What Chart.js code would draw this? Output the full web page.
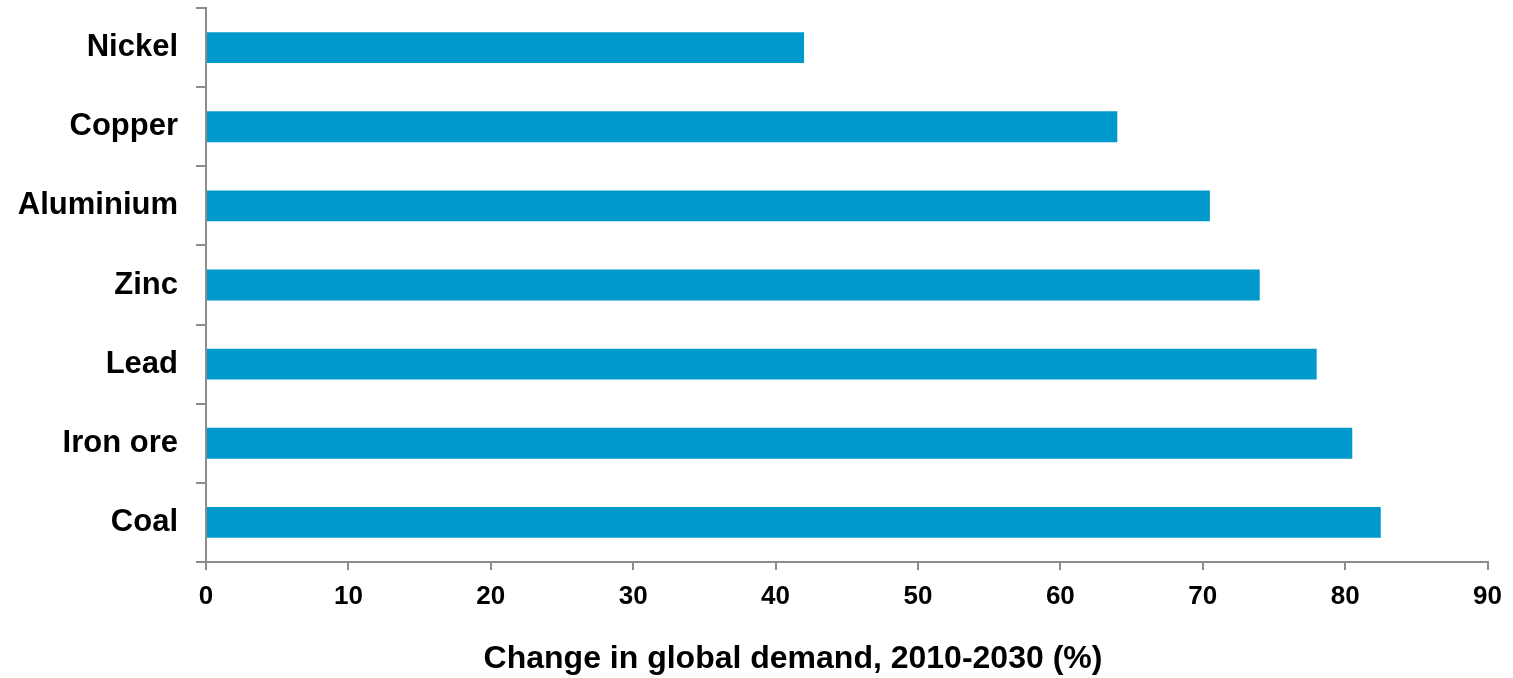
<!DOCTYPE html>
<html>
<head>
<meta charset="utf-8">
<title>Change in global demand, 2010-2030</title>
<script src="https://cdn.jsdelivr.net/npm/chart.js@4"></script>
<style>
  html, body { margin: 0; padding: 0; background: #fff; }
  #wrap { width: 1513px; height: 678px; }
</style>
</head>
<body>
<div id="wrap"><canvas id="demandChart"></canvas></div>
<script>
// Commodities, top to bottom
const metals = ['Nickel', 'Copper', 'Aluminium', 'Zinc', 'Lead', 'Iron ore', 'Coal'];
// Change in global demand 2010-2030, %
const demandChange = [42, 64, 70.5, 74, 78, 80.5, 82.5];
const xMin = 0;
const xMax = 90;
const xStep = 10;
const xTitle = 'Change in global demand, 2010-2030 (%)';

const axisGrey = '#8c8c8c';
const barBlue = 'rgb(0, 153, 204)';
const fontFamily = 'Liberation Sans, Arial, sans-serif';

// axis title sits a little left of the plot centre, so draw it ourselves
const xTitlePlugin = {
    id: 'xTitle',
    afterDraw(chart) {
        const c = chart.ctx;
        c.save();
        c.font = 'bold 32px ' + fontFamily;
        c.fillStyle = '#000';
        c.textAlign = 'center';
        c.textBaseline = 'middle';
        c.fillText(xTitle, 793, 659);
        c.restore();
    }
};

const ctx = document.getElementById('demandChart').getContext('2d');

const demandChart = new Chart(ctx, {
    type: 'bar',
    data: {
        labels: metals,
        datasets: [{
            label: xTitle,
            data: demandChange,
            backgroundColor: barBlue,
            borderWidth: 0,
            categoryPercentage: 1,
            barPercentage: 0.39
        }]
    },
    options: {
        indexAxis: 'y',
        responsive: true,
        maintainAspectRatio: false,
        animation: false,
        layout: {
            padding: { top: 8, right: 21, bottom: 0, left: 0 }
        },
        plugins: {
            legend: { display: false },
            tooltip: { enabled: false }
        },
        scales: {
            x: {
                min: xMin,
                max: xMax,
                ticks: {
                    stepSize: xStep,
                    color: '#000',
                    padding: 11,
                    font: { family: fontFamily, size: 26, weight: 'bold' }
                },
                grid: {
                    drawOnChartArea: false,
                    color: axisGrey,
                    lineWidth: 2,
                    tickLength: 8
                },
                border: { color: axisGrey, width: 2 },
                afterFit: function(scale) {
                    scale.height = 116;
                }
            },
            y: {
                ticks: {
                    color: '#000',
                    padding: 18,
                    font: { family: fontFamily, size: 31, weight: 'bold' }
                },
                grid: {
                    offset: true,
                    drawOnChartArea: false,
                    color: axisGrey,
                    lineWidth: 2,
                    tickLength: 10
                },
                border: { color: axisGrey, width: 2 },
                afterFit: function(scale) {
                    scale.width = 206;
                    scale.paddingTop = 0;
                    scale.paddingBottom = 0;
                }
            }
        }
    },
    plugins: [xTitlePlugin]
});
</script>
</body>
</html>
